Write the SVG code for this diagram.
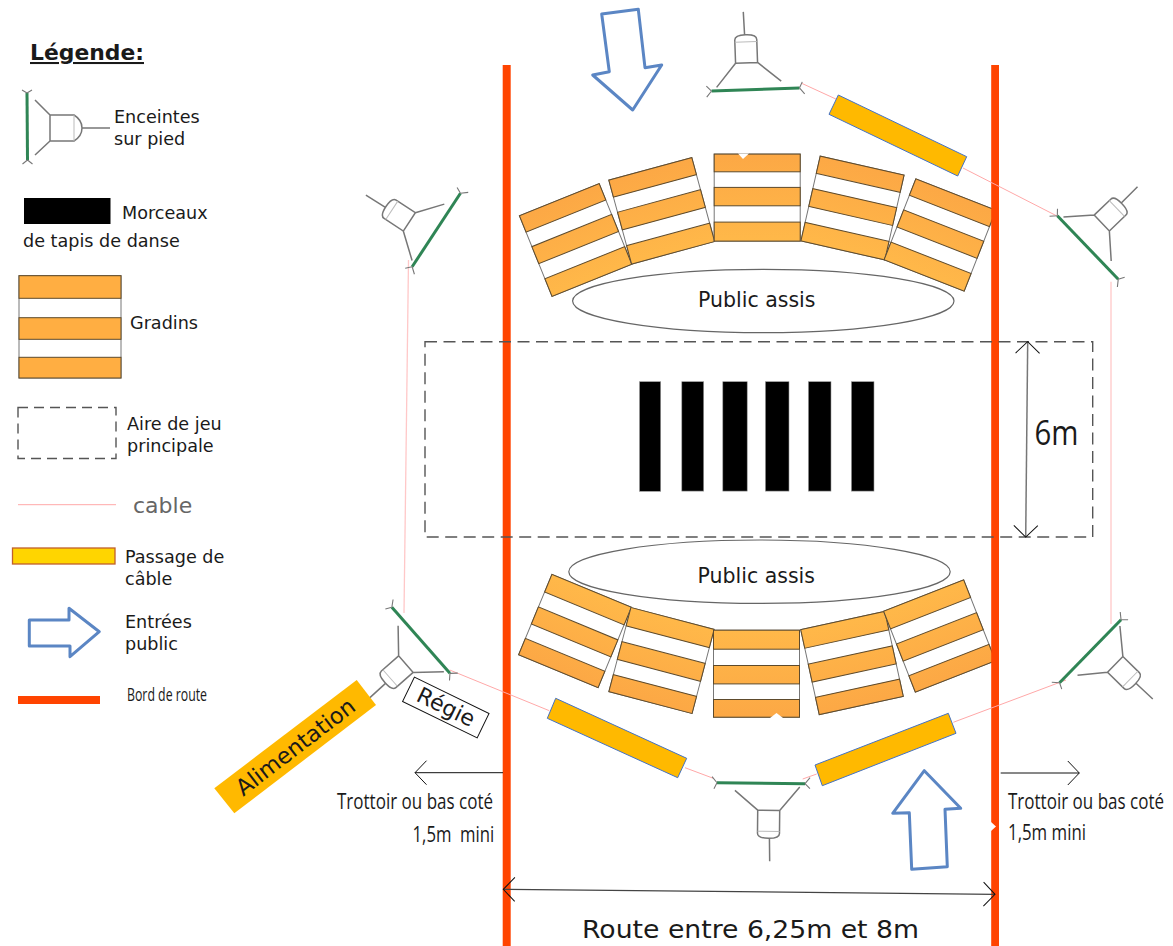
<svg xmlns="http://www.w3.org/2000/svg" width="1173" height="946" viewBox="0 0 1173 946">
<style>
text{font-family:"DejaVu Sans","Liberation Sans",sans-serif;fill:#1a1a1a;white-space:pre}
.leg{font-size:17.6px}
.cond{font-family:"Open Sans","Liberation Sans",sans-serif}
.cable{stroke:#ffa8a8;stroke-width:1;fill:none}
.dash{fill:none;stroke:#555;stroke-width:1.4;stroke-dasharray:12 6.5}
.road{fill:#ff4400}
.entry{fill:#fff;stroke:#5b86c4;stroke-width:3;stroke-linejoin:round}
.pass{fill:#ffb900;stroke:#4472c4;stroke-width:1}
.mat{fill:#000;stroke:#999;stroke-width:.6}
.seat{fill:none;stroke:#666;stroke-width:1.2}
.grey{fill:none;stroke:#777;stroke-width:1.5}
.pale{stroke:#bbb;stroke-width:1;fill:none}
.green{stroke:#2f8555;stroke-width:3;fill:none}
.dim{stroke:#111;stroke-width:1;fill:none}
.stripe{fill:url(#o);stroke:#5d4a2c;stroke-width:1}
.flat{fill:#ffae42;stroke:#5d4a2c;stroke-width:1}
.gap{fill:#fff;stroke:#777;stroke-width:1}
</style>
<defs>
<linearGradient id="o" x1="0" y1="-43.5" x2="0" y2="43.5" gradientUnits="userSpaceOnUse"><stop offset="0" stop-color="#fca845"/><stop offset="1" stop-color="#ffb849"/></linearGradient>
<marker id="open" markerUnits="userSpaceOnUse" markerWidth="14" markerHeight="26" refX="12.5" refY="13" orient="auto-start-reverse"><path d="M1,1 L12.5,13 L1,25" fill="none" stroke="#111" stroke-width="1"/></marker>
<g id="gradin">
<rect class="gap" x="-43" y="-43.5" width="86" height="87"/>
<rect class="stripe" x="-43" y="-43.5" width="86" height="17.7"/>
<rect class="stripe" x="-43" y="-10.2" width="86" height="18.4"/>
<rect class="stripe" x="-43" y="24.5" width="86" height="19"/>
</g>
<g id="speaker">
<path class="green" d="M-44,0 L44,0"/>
<path class="grey" style="stroke-width:1.1" d="M-44,0 L-49,-5 M-44,0 L-49,6 M44,0 L47,-6 M44,0 L49,6"/>
<path class="grey" d="M-19,-27 L3,-27 L3,-50 Q3,-55 -8,-55 Q-19,-55 -19,-50 Z M-38.8,-3.5 L-19,-27 M3,-27 L26,-7.5 M-9,-55 L-9.5,-78"/>
<path class="pale" d="M-19,-48 L3,-48"/>
</g>
</defs>
<rect width="1173" height="946" fill="#fff"/>

<g id="gradins-haut">
<use href="#gradin" transform="translate(575.6,240) rotate(-22)"/>
<use href="#gradin" transform="translate(661.7,210.8) rotate(-15.2)"/>
<use href="#gradin" transform="translate(757.2,197.6)"/>
<use href="#gradin" transform="translate(852.5,208) rotate(12.8)"/>
<use href="#gradin" transform="translate(940,235) rotate(21.4)"/>
<polygon points="738,153.5 749,153.5 743,159" fill="#fff"/>
</g>
<g id="gradins-bas">
<use href="#gradin" transform="translate(575,631) rotate(202.5)"/>
<use href="#gradin" transform="translate(661.5,660.5) rotate(194.7)"/>
<use href="#gradin" transform="translate(756.5,673.7) rotate(180)"/>
<use href="#gradin" transform="translate(852,663) rotate(167.7)"/>
<use href="#gradin" transform="translate(939.5,636) rotate(158.6)"/>
<polygon points="770,718 783,718 776.5,713" fill="#fff"/>
</g>

<g id="public-haut">
<ellipse class="seat" cx="763.3" cy="301" rx="190.7" ry="31.7"/>
<text x="698" y="306.5" font-size="20.5">Public assis</text>
</g>
<g id="public-bas">
<ellipse class="seat" cx="759.5" cy="571.7" rx="190.7" ry="31.7"/>
<text x="697.5" y="582.5" font-size="20.5">Public assis</text>
</g>

<g id="tapis">
<rect class="mat" x="639.5" y="381.7" width="21.2" height="109.6"/>
<rect class="mat" x="681.8" y="381.7" width="21.9" height="109.4"/>
<rect class="mat" x="722.8" y="381.7" width="24.4" height="109.4"/>
<rect class="mat" x="765.4" y="381.7" width="23.6" height="109.4"/>
<rect class="mat" x="808.4" y="381.7" width="22.6" height="109.4"/>
<rect class="mat" x="851.4" y="381.7" width="22.6" height="109.4"/>
</g>

<g id="routes">
<rect class="road" x="502.7" y="65" width="8" height="881"/>
<rect class="road" x="991.2" y="65" width="7.8" height="881"/>
<polygon points="991,822 996,826.5 991,831" fill="#fff"/>
</g>

<g id="aire-de-jeu"><rect class="dash" x="425" y="341.7" width="667.7" height="195.3"/></g>

<g id="connecteurs">
<path class="cable" d="M801.7,83.3 L838,100"/>
<path class="cable" d="M963,168 L1058.3,216.7"/>
<path class="cable" d="M1111,281.7 L1111,624" style="stroke:#ffc8c8;stroke-width:1.3"/>
<path class="cable" d="M408.5,260 L404,613" style="stroke:#ffc8c8;stroke-width:1.3"/>
<path class="cable" d="M449.7,670 L549.3,710.7"/>
<path class="cable" d="M685,767.7 L713.3,778.3"/>
<path class="cable" d="M802.7,779 L816.7,774"/>
<path class="cable" d="M953.3,722.3 L1066,680"/>
<path class="dim" marker-end="url(#open)" d="M503,772.7 L415,772.7"/>
<path class="dim" marker-end="url(#open)" d="M1000.7,773 L1079.3,773"/>
<path class="dim" style="stroke:#777;stroke-width:1.5" marker-start="url(#open)" marker-end="url(#open)" d="M1027.7,341.7 L1025.7,537"/>
<path class="dim" style="stroke:#444;stroke-width:1.3" marker-start="url(#open)" marker-end="url(#open)" d="M503.3,889.3 L995,894.3"/>
</g>

<g id="enceinte-haut"><use href="#speaker" transform="translate(755.5,89.5) rotate(-2)"/></g>
<g id="enceinte-haut-droite"><use href="#speaker" transform="translate(1087.8,247.5) rotate(46.2)"/></g>
<g id="enceinte-haut-gauche"><use href="#speaker" transform="translate(436.3,230) rotate(-56.7)"/></g>
<g id="enceinte-bas-gauche"><use href="#speaker" transform="translate(420.9,640.3) rotate(228.7)"/></g>
<g id="enceinte-bas"><use href="#speaker" transform="translate(761,783.2) rotate(180.6)"/></g>
<g id="enceinte-bas-droite"><use href="#speaker" transform="translate(1090.3,651.3) rotate(134.3)"/></g>

<g id="passage-haut"><polygon class="pass" points="838.3,95 966.7,156.7 957.7,176 829,114.3"/></g>
<g id="passage-bas-gauche"><polygon class="pass" points="555.7,698.3 686.7,758.3 677.7,777.7 547.3,718.3"/></g>
<g id="passage-bas-droite"><polygon class="pass" points="948.3,713.3 956,733.3 822.3,785.7 815,765"/></g>

<g id="entree-haut"><polygon class="entry" points="601.7,14 638.3,9.3 645,67.7 661.7,65 632.7,110 592.7,75 609.3,71.7"/></g>
<g id="entree-bas"><polygon class="entry" points="924.3,770.7 960.7,808.3 945,809.3 947.3,866.7 911.7,869.3 909.3,812.7 892.7,813.3"/></g>

<g id="alimentation">
<polygon points="356.7,680 376,705 234.3,813.3 214.3,788.3" fill="#ffb900"/>
<text transform="translate(295.3,746.7) rotate(-37.5)" text-anchor="middle" y="8" font-size="22.5">Alimentation</text>
</g>
<g id="regie">
<rect x="-41.5" y="-13.5" width="83" height="27" fill="#fff" stroke="#111" stroke-width="1" transform="translate(445.8,707.5) rotate(26)"/>
<text transform="translate(445.8,707.5) rotate(26)" text-anchor="middle" y="7" font-size="22">Régie</text>
</g>

<g id="textes-plan">
<text class="cond" transform="translate(337,809) scale(.81,1)" font-size="21" textLength="192.6" lengthAdjust="spacingAndGlyphs">Trottoir ou bas coté</text>
<text class="cond" transform="translate(412.5,841.5) scale(.81,1)" font-size="21" textLength="101" lengthAdjust="spacingAndGlyphs">1,5m  mini</text>
<text class="cond" transform="translate(1008,809) scale(.81,1)" font-size="21" textLength="192.6" lengthAdjust="spacingAndGlyphs">Trottoir ou bas coté</text>
<text class="cond" transform="translate(1008,840) scale(.81,1)" font-size="21" textLength="96.3" lengthAdjust="spacingAndGlyphs">1,5m mini</text>
<text class="cond" x="1034.5" y="445" font-size="35" textLength="44" lengthAdjust="spacingAndGlyphs">6m</text>
<text x="582" y="938" font-size="24" textLength="337" lengthAdjust="spacingAndGlyphs">Route entre 6,25m et 8m</text>
</g>

<g id="legende">
<text x="30" y="60" font-size="20.5" font-weight="bold" text-decoration="underline" textLength="114" lengthAdjust="spacingAndGlyphs">Légende:</text>
<g id="legende-enceinte">
<path class="green" d="M27,93 L27.5,160"/>
<path class="grey" style="stroke-width:1.1" d="M27,93 L22,90 M27,93 L32,90 M27.5,160 L22.5,164 M27.5,160 L32.5,164"/>
<path class="grey" d="M50,115 L74,115 Q82,120 82,128 Q82,136 74,141 L50,141 Z M35,100 L50,115 M35,155 L50,141 M82,128 L110,128"/>
<path class="pale" d="M74,115 L74,141"/>
<text class="leg" x="114" y="123">Enceintes</text>
<text class="leg" x="114" y="145">sur pied</text>
</g>
<g id="legende-tapis">
<rect x="24" y="198" width="86.5" height="26" fill="#000"/>
<text class="leg" x="122" y="219">Morceaux</text>
<text class="leg" x="23" y="247">de tapis de danse</text>
</g>
<g id="legende-gradins">
<rect class="gap" x="19" y="275.7" width="102" height="102.3"/>
<rect class="flat" x="19" y="275.7" width="102" height="22.6"/>
<rect class="flat" x="19" y="317.7" width="102" height="21.6"/>
<rect class="flat" x="19" y="357.3" width="102" height="20.7"/>
<text class="leg" x="130" y="329">Gradins</text>
</g>
<g id="legende-aire">
<rect class="dash" x="18" y="407.5" width="98" height="51" style="stroke-dasharray:10 6"/>
<text class="leg" x="127" y="430">Aire de jeu</text>
<text class="leg" x="127" y="452">principale</text>
</g>
<g id="legende-cable">
<path class="cable" d="M18,504.7 L116,504.7"/>
<text x="133" y="513" font-size="22" style="fill:#666">cable</text>
</g>
<g id="legende-passage">
<rect x="12.5" y="548" width="102.5" height="16" fill="#ffd500" stroke="#c0602c" stroke-width="1.3"/>
<text class="leg" x="125" y="563">Passage de</text>
<text class="leg" x="125" y="585">câble</text>
</g>
<g id="legende-entree">
<polygon class="entry" points="29.3,620 69,620 69,608.3 99.3,631.7 70,656.7 70,646 29.3,646"/>
<text class="leg" x="125" y="628">Entrées</text>
<text class="leg" x="125" y="650">public</text>
</g>
<g id="legende-route">
<rect class="road" x="18" y="696" width="82" height="8"/>
<text class="cond" x="127" y="701" font-size="18" textLength="80" lengthAdjust="spacingAndGlyphs">Bord de route</text>
</g>
</g>
</svg>
